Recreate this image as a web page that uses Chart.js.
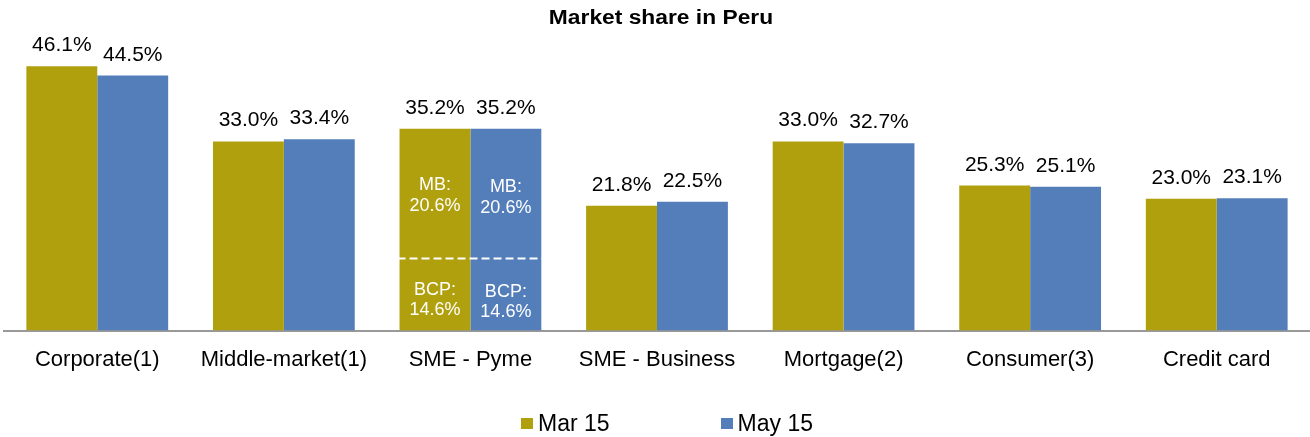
<!DOCTYPE html>
<html>
<head>
<meta charset="utf-8">
<script src="https://cdn.jsdelivr.net/npm/chart.js@4.4.0/dist/chart.umd.min.js"></script>
<style>
  html, body { margin: 0; padding: 0; background: #fff; }
  #wrap { position: relative; width: 1310px; height: 437px; }
  #legend { position: absolute; left: 521px; top: 410px; display: flex; align-items: center;
            font-family: "Liberation Sans", Arial, sans-serif; font-size: 23px; color: #000; }
  .item { display: flex; align-items: center; }
  .item + .item { margin-left: 111px; }
  .box { width: 12px; height: 11px; margin-right: 5px; }
</style>
</head>
<body>
<div id="wrap">
  <canvas id="chart1" width="1310" height="437"></canvas>
  <div id="legend"></div>
</div>
<script>
const categories = ['Corporate(1)', 'Middle-market(1)', 'SME - Pyme', 'SME - Business', 'Mortgage(2)', 'Consumer(3)', 'Credit card']
const mar15 = [46.1, 33.0, 35.2, 21.8, 33.0, 25.3, 23.0]
const may15 = [44.5, 33.4, 35.2, 22.5, 32.7, 25.1, 23.1]
const seriesNames = ['Mar 15', 'May 15']
const seriesColors = ['#B0A00E', '#547EB9']

// SME - Pyme split (same for both periods)
const splitCategory = 'SME - Pyme'
const mbShare = [20.6, 20.6]
const bcpShare = [14.6, 14.6]
const dividerAt = 12.6   // where the dashed divider sits in the picture

const fontFamily = '"Liberation Sans", Arial, sans-serif'

const titlePlugin = {
    id: 'stretchTitle',
    afterDraw(chart) {
        const ctx = chart.ctx
        ctx.save()
        ctx.translate(661, 24)
        ctx.scale(1.14, 1)
        ctx.font = 'bold 20px ' + fontFamily
        ctx.fillStyle = '#000'
        ctx.textAlign = 'center'
        ctx.textBaseline = 'alphabetic'
        ctx.fillText('Market share in Peru', 0, 0)
        ctx.restore()
    }
}

const valueLabels = {
    id: 'valueLabels',
    afterDatasetsDraw(chart) {
        const ctx = chart.ctx
        const yScale = chart.scales.y
        const idx = categories.indexOf(splitCategory)
        ctx.save()
        ctx.textAlign = 'center'
        chart.data.datasets.forEach((ds, di) => {
            const meta = chart.getDatasetMeta(di)
            meta.data.forEach((bar, i) => {
                ctx.font = '21px ' + fontFamily
                ctx.fillStyle = '#000'
                ctx.textBaseline = 'alphabetic'
                ctx.fillText(ds.data[i].toFixed(1) + '%', bar.x, bar.y - 15)
            })
            // inner labels for the split bar
            const bar = meta.data[idx]
            const top = ds.data[idx]
            const yMb = yScale.getPixelForValue((top + dividerAt) / 2)
            const yBcp = yScale.getPixelForValue(dividerAt / 2)
            ctx.font = '18px ' + fontFamily
            ctx.fillStyle = '#fff'
            ctx.textBaseline = 'middle'
            ctx.fillText('MB:', bar.x, yMb - 9 + di * 2)
            ctx.fillText(mbShare[di].toFixed(1) + '%', bar.x, yMb + 12 + di * 2)
            ctx.fillText('BCP:', bar.x, yBcp - 4 + di * 2)
            ctx.fillText(bcpShare[di].toFixed(1) + '%', bar.x, yBcp + 16 + di * 2)
        })
        // dashed divider across both bars
        const m0 = chart.getDatasetMeta(0).data[idx]
        const m1 = chart.getDatasetMeta(1).data[idx]
        const yd = yScale.getPixelForValue(dividerAt)
        ctx.strokeStyle = '#fff'
        ctx.lineWidth = 2
        ctx.setLineDash([8, 4])
        ctx.beginPath()
        ctx.moveTo(m0.x - m0.width / 2 - 2, yd)
        ctx.lineTo(m1.x + m1.width / 2 + 4, yd)
        ctx.stroke()
        ctx.restore()
    }
}

const chart = new Chart(document.getElementById('chart1'), {
    type: 'bar',
    data: {
        labels: categories,
        datasets: [
            { label: seriesNames[0], data: mar15, backgroundColor: seriesColors[0] },
            { label: seriesNames[1], data: may15, backgroundColor: seriesColors[1] },
        ],
    },
    options: {
        responsive: false,
        animation: false,
        layout: { padding: { top: 44, left: 4, right: 0, bottom: 48 } },
        datasets: { bar: { categoryPercentage: 0.76, barPercentage: 1.0 } },
        scales: {
            x: {
                grid: { display: false, drawTicks: false },
                border: { display: true, color: '#999', width: 2 },
                ticks: {
                    padding: 16,
                    color: '#000',
                    autoSkip: false,
                    maxRotation: 0,
                    font: { family: fontFamily, size: 22 },
                },
            },
            y: { display: false, min: 0, max: 50 },
        },
        plugins: {
            legend: { display: false },
            title: { display: false },
            tooltip: { enabled: false },
        },
    },
    plugins: [titlePlugin, valueLabels],
})

// legend below the chart
const legend = document.getElementById('legend')
seriesNames.forEach((name, i) => {
    const item = document.createElement('div')
    item.className = 'item'
    const box = document.createElement('span')
    box.className = 'box'
    box.style.background = seriesColors[i]
    const txt = document.createElement('span')
    txt.textContent = name
    item.appendChild(box)
    item.appendChild(txt)
    legend.appendChild(item)
})
</script>
</body>
</html>
